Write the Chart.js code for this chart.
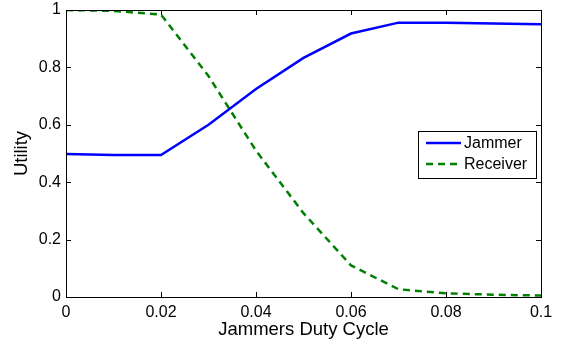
<!DOCTYPE html>
<html>
<head>
<meta charset="utf-8">
<script src="https://cdn.jsdelivr.net/npm/chart.js@4"></script>
<style>
  html, body { margin: 0; padding: 0; background: #fff; }
  #c { display: block; }
</style>
</head>
<body>
<canvas id="c" width="562" height="346"></canvas>
<script>
const dutyCycle = [0, 0.01, 0.02, 0.03, 0.04, 0.05, 0.06, 0.07, 0.08, 0.09, 0.1];
const jammerUtility = [0.498, 0.495, 0.495, 0.600, 0.725, 0.833, 0.918, 0.956, 0.956, 0.953, 0.950];
const receiverUtility = [1.0, 0.997, 0.984, 0.770, 0.510, 0.292, 0.110, 0.027, 0.013, 0.008, 0.005];
const xTickLabels = ['0', '0.02', '0.04', '0.06', '0.08', '0.1'];
const yTickLabels = ['0', '0.2', '0.4', '0.6', '0.8', '1'];
const seriesNames = ['Jammer', 'Receiver'];
const xTitle = 'Jammers Duty Cycle';
const yTitle = 'Utility';

const FONT = '"Liberation Sans", Arial, Helvetica, sans-serif';

const toPoints = (xs, ys) => xs.map((x, i) => ({ x: x, y: ys[i] }));

const frameTicks = {
  id: 'frameTicks',
  afterDraw(chart) {
    const { ctx, chartArea: a, scales } = chart;
    ctx.save();
    ctx.strokeStyle = '#000';
    ctx.lineWidth = 1;
    const L = 5;
    ctx.beginPath();
    scales.x.ticks.forEach(t => {
      const px = Math.round(scales.x.getPixelForValue(t.value)) + 0.5;
      ctx.moveTo(px, a.bottom); ctx.lineTo(px, a.bottom - L);
      ctx.moveTo(px, a.top); ctx.lineTo(px, a.top + L);
    });
    scales.y.ticks.forEach(t => {
      const py = Math.round(scales.y.getPixelForValue(t.value)) + 0.5;
      ctx.moveTo(a.left, py); ctx.lineTo(a.left + L, py);
      ctx.moveTo(a.right, py); ctx.lineTo(a.right - L, py);
    });
    ctx.stroke();
    ctx.strokeRect(Math.round(a.left) + 0.5, Math.round(a.top) + 0.5,
                   Math.round(a.right - a.left), Math.round(a.bottom - a.top));

    // legend
    const bx = 418.5, by = 131.5, bw = 118, bh = 47;
    ctx.fillStyle = '#fff';
    ctx.fillRect(bx, by, bw, bh);
    ctx.strokeRect(bx, by, bw, bh);
    ctx.font = '16px ' + FONT;
    ctx.textBaseline = 'middle';
    ctx.textAlign = 'left';
    chart.data.datasets.forEach((ds, i) => {
      const y = 143 + i * 21;
      ctx.save();
      ctx.strokeStyle = ds.borderColor;
      ctx.lineWidth = ds.borderWidth;
      ctx.setLineDash(ds.borderDash || []);
      ctx.beginPath();
      ctx.moveTo(426, y); ctx.lineTo(461, y);
      ctx.stroke();
      ctx.restore();
      ctx.fillStyle = '#000';
      ctx.fillText(ds.label, 464, y + 1);
    });
    ctx.restore();
  }
};

new Chart(document.getElementById('c'), {
  type: 'line',
  data: {
    datasets: [
      {
        label: seriesNames[0],
        data: toPoints(dutyCycle, jammerUtility),
        borderColor: '#0000ff',
        borderWidth: 2.5,
        pointRadius: 0,
        fill: false,
        tension: 0
      },
      {
        label: seriesNames[1],
        data: toPoints(dutyCycle, receiverUtility),
        borderColor: '#008000',
        borderWidth: 2.5,
        borderDash: [7, 5],
        pointRadius: 0,
        fill: false,
        tension: 0
      }
    ]
  },
  options: {
    responsive: false,
    animation: false,
    devicePixelRatio: 1,
    layout: { padding: { top: 10, right: 21, left: 0, bottom: 0 } },
    plugins: { legend: { display: false }, tooltip: { enabled: false } },
    scales: {
      x: {
        type: 'linear',
        min: 0, max: 0.1,
        afterFit(s) { s.height = 49; s.paddingLeft = 0; s.paddingRight = 0; },
        afterBuildTicks(s) { s.ticks = xTickLabels.map(v => ({ value: parseFloat(v) })); },
        ticks: {
          color: '#000',
          font: { family: FONT, size: 16, lineHeight: 1 },
          padding: 8,
          maxRotation: 0,
          autoSkip: false,
          callback: (v, i) => xTickLabels[i]
        },
        grid: { display: false, drawTicks: false },
        border: { display: false },
        title: {
          display: true, text: xTitle, color: '#000',
          font: { family: FONT, size: 18.5 }, padding: { top: 0, bottom: 5 }
        }
      },
      y: {
        type: 'linear',
        min: 0, max: 1,
        afterFit(s) { s.width = 66; s.paddingTop = 0; s.paddingBottom = 0; },
        afterBuildTicks(s) { s.ticks = yTickLabels.map(v => ({ value: parseFloat(v) })); },
        ticks: {
          color: '#000',
          font: { family: FONT, size: 16, lineHeight: 1 },
          padding: 5,
          autoSkip: false,
          callback: (v, i) => yTickLabels[i]
        },
        grid: { display: false, drawTicks: false },
        border: { display: false },
        title: {
          display: true, text: yTitle, color: '#000',
          font: { family: FONT, size: 18.5 }, padding: { top: 11, bottom: 0 }
        }
      }
    }
  },
  plugins: [frameTicks]
});
</script>
</body>
</html>
